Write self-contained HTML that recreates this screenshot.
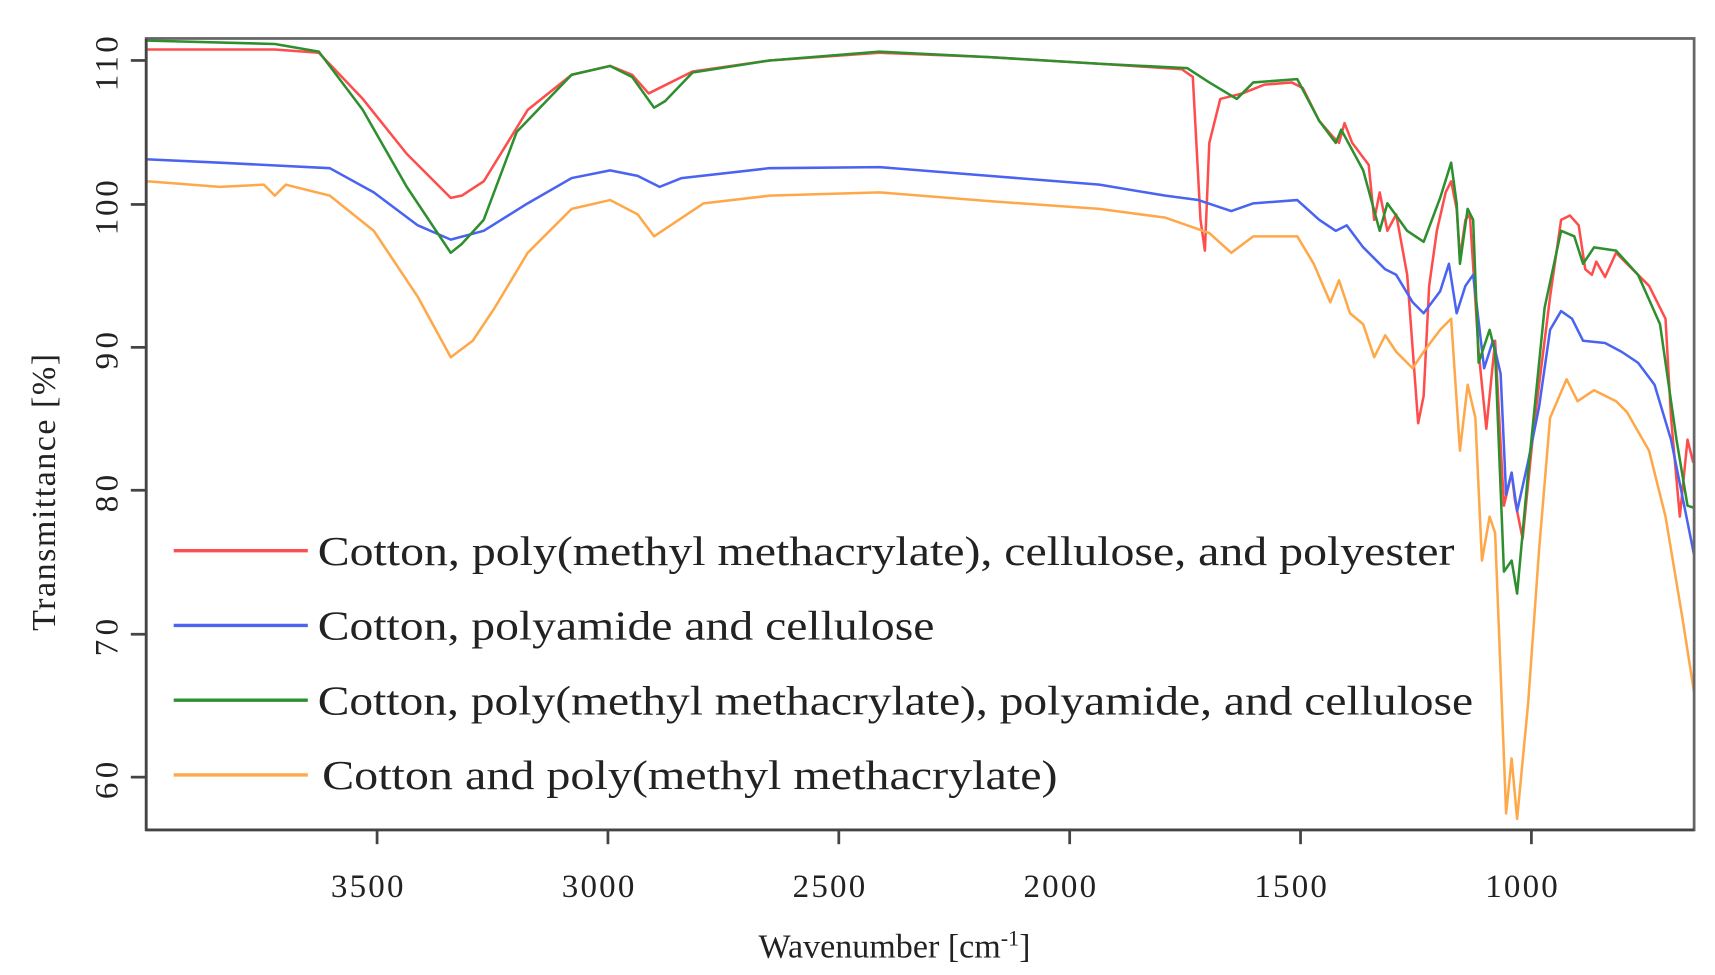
<!DOCTYPE html>
<html><head><meta charset="utf-8"><style>
html,body{margin:0;padding:0;background:#fff;}
svg{display:block;}
text{font-family:"Liberation Serif",serif;fill:#222;}
</style></head><body>
<svg width="1715" height="975" viewBox="0 0 1560 887" preserveAspectRatio="none" xmlns="http://www.w3.org/2000/svg">
<rect width="1560" height="887" fill="#fff"/>
<g id="curves" fill="none" stroke-width="2.3" stroke-linejoin="round" stroke-linecap="round"></g>
<rect x="133" y="35" width="1408" height="720" fill="none" stroke="#666" stroke-width="2.5"/>
<line x1="133" y1="35" x2="133" y2="756" stroke="#444" stroke-width="2.5"/>
<line x1="133" y1="755" x2="1541" y2="755" stroke="#444" stroke-width="2.5"/>
<g stroke="#444" stroke-width="2.5">
<line x1="343" y1="755" x2="343" y2="768"/><line x1="553" y1="755" x2="553" y2="768"/>
<line x1="763" y1="755" x2="763" y2="768"/><line x1="973" y1="755" x2="973" y2="768"/>
<line x1="1183" y1="755" x2="1183" y2="768"/><line x1="1393" y1="755" x2="1393" y2="768"/>
<line x1="119" y1="55" x2="133" y2="55"/><line x1="119" y1="186" x2="133" y2="186"/>
<line x1="119" y1="316" x2="133" y2="316"/><line x1="119" y1="446" x2="133" y2="446"/>
<line x1="119" y1="577" x2="133" y2="577"/><line x1="119" y1="707" x2="133" y2="707"/>
</g>
<g font-size="30" text-anchor="middle">
<text x="334" y="816" textLength="66">3500</text><text x="544" y="816" textLength="66">3000</text><text x="754" y="816" textLength="66">2500</text>
<text x="964" y="816" textLength="66">2000</text><text x="1174" y="816" textLength="66">1500</text><text x="1384" y="816" textLength="66">1000</text>
<text transform="translate(107,58) rotate(-90)" textLength="50">110</text>
<text transform="translate(107,189) rotate(-90)" textLength="50">100</text>
<text transform="translate(107,319) rotate(-90)" textLength="34">90</text>
<text transform="translate(107,449) rotate(-90)" textLength="34">80</text>
<text transform="translate(107,580) rotate(-90)" textLength="34">70</text>
<text transform="translate(107,710) rotate(-90)" textLength="34">60</text>
</g>
<text transform="translate(50,448) rotate(-90)" font-size="31" text-anchor="middle" textLength="252">Transmittance [%]</text>
<text x="690" y="871" font-size="31">Wavenumber [cm<tspan font-size="20" dy="-11">-1</tspan><tspan dy="11">]</tspan></text>
<g stroke-width="3">
<line x1="158" y1="501" x2="280" y2="501" stroke="#ff4d4d"/>
<line x1="158" y1="569" x2="280" y2="569" stroke="#4a63f0"/>
<line x1="158" y1="637" x2="280" y2="637" stroke="#2e8f2e"/>
<line x1="158" y1="705" x2="280" y2="705" stroke="#ffa84a"/>
</g>
<g font-size="38">
<text x="289" y="514" textLength="1034" lengthAdjust="spacingAndGlyphs">Cotton, poly(methyl methacrylate), cellulose, and polyester</text>
<text x="289" y="582" textLength="561" lengthAdjust="spacingAndGlyphs">Cotton, polyamide and cellulose</text>
<text x="289" y="650" textLength="1051" lengthAdjust="spacingAndGlyphs">Cotton, poly(methyl methacrylate), polyamide, and cellulose</text>
<text x="293" y="718" textLength="669" lengthAdjust="spacingAndGlyphs">Cotton and poly(methyl methacrylate)</text>
</g>
<script>
var S=[
["#ff4d4d",[[135,45],[250,45],[290,48],[330,90],[370,140],[410,180],[420,178],[440,165],[480,100],[520,68],[555,60],[575,68],[590,85],[600,80],[630,65],[700,55],[800,48],[900,52],[1000,58],[1075,63],[1085,70],[1092,200],[1096,228],[1100,130],[1110,90],[1130,85],[1150,77],[1175,75],[1185,80],[1200,110],[1213,125],[1218,130],[1223,112],[1230,130],[1245,150],[1250,200],[1255,175],[1262,210],[1270,195],[1280,250],[1290,385],[1295,360],[1300,260],[1307,210],[1315,175],[1320,165],[1325,190],[1328,235],[1333,200],[1337,195],[1345,320],[1352,390],[1357,340],[1360,310],[1368,460],[1375,430],[1378,455],[1385,490],[1395,390],[1410,270],[1420,200],[1428,196],[1436,205],[1442,245],[1448,250],[1452,238],[1460,252],[1470,230],[1480,240],[1500,260],[1515,290],[1520,380],[1528,470],[1535,400],[1540,420],[1541,415]]],
["#4a63f0",[[135,145],[200,148],[240,150],[300,153],[340,175],[380,205],[410,218],[440,210],[480,185],[520,162],[555,155],[580,160],[600,170],[620,162],[700,153],[800,152],[900,160],[1000,168],[1060,178],[1090,182],[1120,192],[1140,185],[1180,182],[1200,200],[1215,210],[1225,205],[1240,225],[1260,245],[1270,250],[1285,275],[1295,285],[1310,265],[1318,240],[1325,285],[1333,260],[1340,250],[1350,335],[1358,310],[1365,340],[1370,450],[1375,430],[1380,465],[1390,420],[1400,370],[1410,300],[1420,283],[1430,290],[1440,310],[1460,312],[1475,320],[1490,330],[1505,350],[1520,400],[1541,505]]],
["#2e8f2e",[[135,37],[250,40],[290,47],[330,100],[370,170],[410,230],[420,222],[440,200],[470,120],[520,68],[555,60],[575,70],[595,98],[605,92],[630,66],[700,55],[800,47],[900,52],[1000,58],[1080,62],[1100,75],[1125,90],[1140,75],[1180,72],[1200,110],[1215,130],[1220,118],[1240,155],[1255,210],[1262,185],[1280,210],[1295,220],[1310,180],[1320,148],[1325,185],[1328,240],[1335,190],[1340,200],[1345,330],[1355,300],[1360,320],[1368,520],[1375,510],[1380,540],[1390,430],[1405,280],[1420,210],[1432,215],[1440,240],[1450,225],[1470,228],[1490,250],[1510,295],[1525,400],[1535,460],[1541,462]]],
["#ffa84a",[[135,165],[200,170],[240,168],[250,178],[260,168],[300,178],[340,210],[380,270],[410,325],[430,310],[450,280],[480,230],[520,190],[555,182],[580,195],[595,215],[610,205],[640,185],[700,178],[800,175],[900,183],[1000,190],[1060,198],[1080,205],[1100,212],[1120,230],[1140,215],[1180,215],[1195,240],[1210,275],[1218,255],[1228,285],[1240,295],[1250,325],[1260,305],[1270,320],[1285,335],[1295,320],[1310,300],[1320,290],[1328,410],[1335,350],[1342,380],[1348,510],[1355,470],[1360,485],[1370,740],[1375,690],[1380,745],[1390,640],[1400,500],[1410,380],[1425,345],[1435,365],[1450,355],[1470,365],[1480,375],[1500,410],[1515,470],[1530,560],[1541,630]]]
];
var g=document.getElementById("curves");
S.forEach(function(s){var p=document.createElementNS("http://www.w3.org/2000/svg","polyline");
p.setAttribute("points",s[1].map(function(q){return q.join(",")}).join(" "));
p.setAttribute("stroke",s[0]);g.appendChild(p);});
</script>
</svg>
</body></html>
